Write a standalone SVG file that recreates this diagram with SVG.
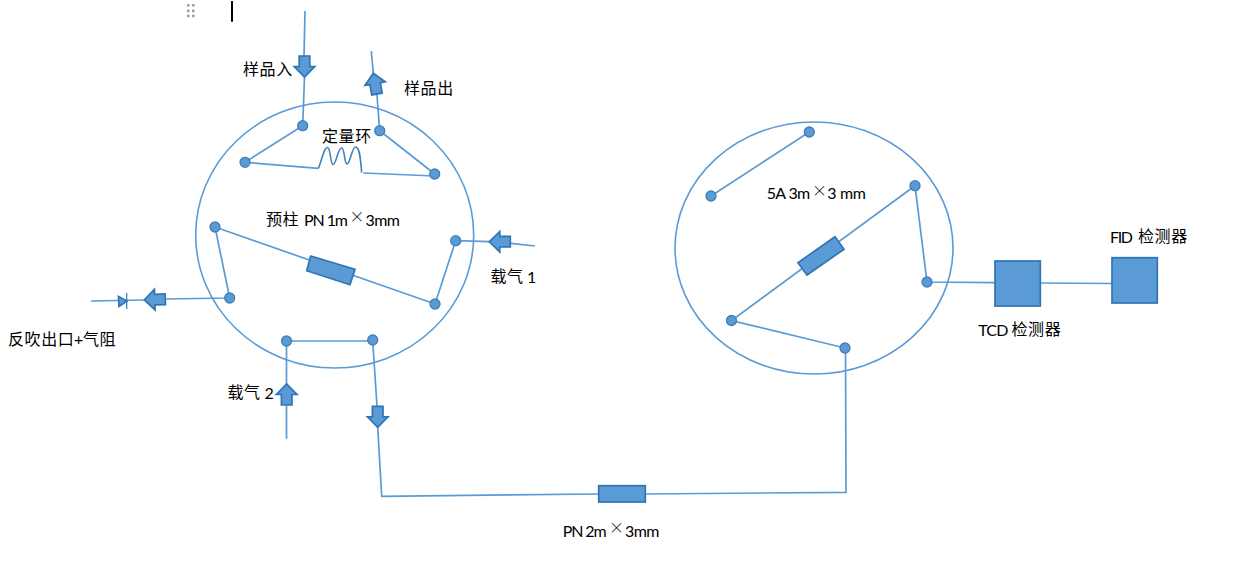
<svg xmlns="http://www.w3.org/2000/svg" xmlns:xlink="http://www.w3.org/1999/xlink" width="1237" height="573" viewBox="0 0 1237 573">
<style>
.bg{fill:#fff}
.ring{fill:none;stroke:#5b9bd5;stroke-width:1.6}
.ln{fill:none;stroke:#5b9bd5;stroke-width:1.7;stroke-linejoin:miter}
.coil{fill:none;stroke:#3f81bd;stroke-width:1.6;stroke-linejoin:round}
.port{fill:#5b9bd5;stroke:#3f7fb8;stroke-width:1.3}
.box{fill:#5b9bd5;stroke:#2e75b6;stroke-width:1.7}
.t{font-family:Lato,"Liberation Sans","Noto Sans CJK SC",sans-serif;font-size:16px;fill:#000}
.c{font-family:"Noto Sans CJK SC",sans-serif;font-size:16px;letter-spacing:.6px;fill:#000}
.x{font-family:"Noto Sans CJK SC",sans-serif;font-size:15px;font-weight:300;fill:#000}
.h{fill:#9a9a9a}
</style>
<defs>
<path id="blockArrow" class="box" d="M-5.3-21H5.3V-10.5H10.3L0 0L-10.3-10.5H-5.3Z"/>
</defs>
<rect class="bg" width="1237" height="573"/>
<g id="editor-marks">
<circle class="h" cx="188.3" cy="5.3" r="1.4"/><circle class="h" cx="193.3" cy="5.3" r="1.4"/>
<circle class="h" cx="188.3" cy="11" r="1.4"/><circle class="h" cx="193.3" cy="11" r="1.4"/>
<circle class="h" cx="188.3" cy="16" r="1.4"/><circle class="h" cx="193.3" cy="16" r="1.4"/>
<rect x="231" y="1" width="2" height="20.7" fill="#000"/>
</g>
<g id="valve-left"><ellipse class="ring" cx="334.7" cy="235" rx="139" ry="133"/></g>
<g id="valve-right"><ellipse class="ring" cx="814" cy="248" rx="139" ry="126"/></g>
<g id="connectors">
<path class="ln" d="M305 11L304 56M304.5 77L302.7 125.7L245 162.3L318.3 168.3"/>
<path class="coil" d="M318.3 168.3C322 160 324 147 327.5 147.5C331 148 330 164 333 164.5C336 165 338 148 341.5 148C345 148 344 164 347 164C350 164 352 147 355.5 147C360 147 360.5 160 361.7 172.7"/>
<path class="ln" d="M363.3 173L434.7 176M434.7 174L379.7 130.7L377 95M373.3 73L371.3 51"/>
<path class="ln" d="M91 301L144 300M165.7 299L229.7 298L215 227L435 304L455.7 240.7L489.3 241.7M511 243.3L535 246"/>
<path class="ln" d="M286.5 341H372.7L377 406M377.7 427L381.7 496.3L598.7 494M645.3 494L846 492.3L845.5 348"/>
<path class="ln" d="M286.5 341V384M286.5 402V438.7"/>
<path class="ln" d="M809.3 132L711 196M915 185.7L731.5 320.5L845 348M915 185.7L927 282L995 282.7M1040.3 283L1112 283.5"/>
</g>
<g id="ports">
<circle class="port" cx="302.7" cy="125.7" r="5"/><circle class="port" cx="245" cy="162.3" r="5"/>
<circle class="port" cx="379.7" cy="130.7" r="5"/><circle class="port" cx="434.7" cy="174" r="5"/>
<circle class="port" cx="215" cy="227" r="5"/><circle class="port" cx="455.7" cy="240.7" r="5"/>
<circle class="port" cx="229.7" cy="298" r="5"/><circle class="port" cx="435" cy="304" r="5"/>
<circle class="port" cx="286.5" cy="341" r="5"/><circle class="port" cx="372.7" cy="340" r="5"/>
<circle class="port" cx="809.3" cy="132" r="5"/><circle class="port" cx="711" cy="196" r="5"/>
<circle class="port" cx="915" cy="185.7" r="5"/><circle class="port" cx="927" cy="282" r="5"/>
<circle class="port" cx="731.5" cy="320.5" r="5"/><circle class="port" cx="845" cy="348" r="5"/>
</g>
<g id="arrows">
<use xlink:href="#blockArrow" href="#blockArrow" transform="translate(304.5 77)"/>
<use xlink:href="#blockArrow" href="#blockArrow" transform="translate(373.3 73.3) rotate(170)"/>
<use xlink:href="#blockArrow" href="#blockArrow" transform="translate(489.3 241.7) rotate(90)"/>
<use xlink:href="#blockArrow" href="#blockArrow" transform="translate(144.3 300) rotate(88)"/>
<use xlink:href="#blockArrow" href="#blockArrow" transform="translate(286.7 384) rotate(180)"/>
<use xlink:href="#blockArrow" href="#blockArrow" transform="translate(377.7 427.3)"/>
</g>
<g id="check-valve">
<path class="box" d="M118.5 296.5L127 301L119 306.5Z" stroke-width="1"/>
<path d="M126.7 293V309" stroke="#2e75b6" stroke-width="1.2" fill="none"/>
</g>
<g id="column-precolumn"><polygon class="box" points="310.7,256 355,269.3 350,284.7 306.7,270.7"/></g>
<g id="column-5a"><polygon class="box" points="835,236.7 844,249.3 807,275 798,262.7"/></g>
<g id="column-pn"><rect class="box" x="598.7" y="485.7" width="46.6" height="16.3"/></g>
<g id="tcd"><rect class="box" x="995" y="261" width="45.3" height="45"/></g>
<g id="fid"><rect class="box" x="1112" y="257.7" width="45.3" height="45.3"/></g>
<g id="labels">
<text class="c" x="243" y="75">样品入</text>
<text class="c" x="404" y="94">样品出</text>
<text class="c" x="322" y="142">定量环</text>
<text class="c" x="266" y="225">预柱</text><text class="t" x="304" y="226" textLength="44">PN 1m</text><text class="x" x="349.5" y="222">×</text><text class="t" x="365.5" y="226" textLength="34.5">3mm</text>
<text class="c" x="490.5" y="282">载气</text><text class="t" x="527" y="283">1</text>
<text class="c" x="227.5" y="398">载气</text><text class="t" x="264.5" y="399">2</text>
<text class="c" x="8" y="345">反吹出口</text><text class="t" x="74" y="345">+</text><text class="c" x="83" y="345">气阻</text>
<text class="t" x="766.7" y="199" textLength="43.5">5A 3m</text><text class="x" x="812" y="196">×</text><text class="t" x="827.3" y="199" textLength="38.7">3 mm</text>
<text class="t" x="978.3" y="336" textLength="30">TCD</text><text class="c" x="1011.5" y="335">检测器</text>
<text class="t" x="1110" y="243" textLength="23">FID</text><text class="c" x="1138" y="242">检测器</text>
<text class="t" x="562.7" y="536.5" textLength="44">PN 2m</text><text class="x" x="609" y="533">×</text><text class="t" x="625" y="536.5" textLength="34.5">3mm</text>
</g>
</svg>
